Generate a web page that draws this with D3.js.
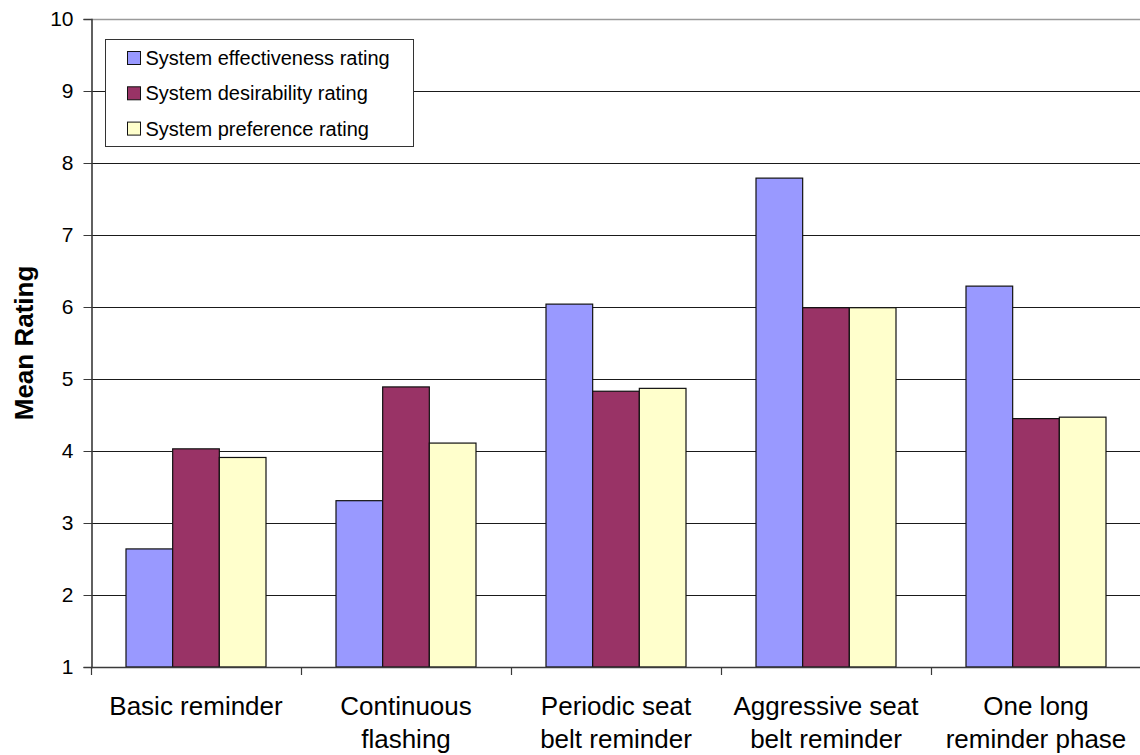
<!DOCTYPE html>
<html>
<head>
<meta charset="utf-8">
<script src="https://cdn.jsdelivr.net/npm/d3@7/dist/d3.min.js"></script>
<style>
  html, body { margin: 0; padding: 0; background: #fff; }
  svg { display: block; font-family: "Liberation Sans", Arial, sans-serif; }
</style>
</head>
<body>
<svg id="chart" width="1140" height="755"></svg>
<script>
// Reminder system concepts (x categories), each label split onto lines
const categories = [
  ["Basic reminder"],
  ["Continuous", "flashing"],
  ["Periodic seat", "belt reminder"],
  ["Aggressive seat", "belt reminder"],
  ["One long", "reminder phase"]
];
const seriesNames = [
  "System effectiveness rating",
  "System desirability rating",
  "System preference rating"
];
const seriesColors = ["#9999FF", "#993366", "#FFFFCC"];

// Mean ratings per series, in category order
const effectiveness = [2.64, 3.31, 6.04, 7.79, 6.29];
const desirability  = [4.03, 4.89, 4.83, 5.99, 4.45];
const preference    = [3.91, 4.11, 4.87, 5.99, 4.47];

const yTicks = [1, 2, 3, 4, 5, 6, 7, 8, 9, 10];
const yTitle = "Mean Rating";

const series = [effectiveness, desirability, preference];
const catKeys = categories.map(c => c.join(" "));

const svg = d3.select("#chart");
const plotLeft = 91, plotRight = 1141, plotTop = 19, plotBottom = 667;

const y = d3.scaleLinear().domain([1, 10]).range([plotBottom, plotTop]);
const x0 = d3.scaleBand().domain(catKeys).range([plotLeft, plotRight]).padding(0);
const bw = x0.bandwidth();
const barW = bw / 4.5;
const x1 = d3.scaleBand().domain(d3.range(series.length))
  .range([barW * 0.75, bw - barW * 0.75]).padding(0);

// Horizontal gridlines
svg.append("g").selectAll("line")
  .data(yTicks.filter(t => t > 1))
  .join("line")
  .attr("x1", plotLeft).attr("x2", plotRight)
  .attr("y1", d => Math.round(y(d)) + 0.5).attr("y2", d => Math.round(y(d)) + 0.5)
  .attr("stroke", d => d === 10 ? "#9a9a9a" : "#1a1a1a")
  .attr("stroke-width", d => d === 10 ? 1.6 : 1);

// Bars
const groups = svg.append("g").selectAll("g")
  .data(catKeys)
  .join("g")
  .attr("transform", d => `translate(${x0(d)},0)`);

groups.selectAll("rect")
  .data((d, i) => series.map((s, k) => ({ k, v: s[i] })))
  .join("rect")
  .attr("x", d => x1(d.k))
  .attr("width", x1.bandwidth())
  .attr("y", d => y(d.v))
  .attr("height", d => y(1) - y(d.v))
  .attr("fill", d => seriesColors[d.k])
  .attr("stroke", "#111")
  .attr("stroke-width", 1.2);

// Y axis
const yAxis = d3.axisLeft(y).tickValues(yTicks).tickSize(8).tickPadding(10)
  .tickFormat(d3.format("d"));
const gy = svg.append("g").attr("transform", `translate(${plotLeft + 0.5},0)`).call(yAxis);
gy.select(".domain").attr("stroke", "#3a3a3a").attr("stroke-width", 1.6);
gy.selectAll(".tick line").attr("stroke", "#3a3a3a");
gy.selectAll(".tick text")
  .attr("font-size", 21).attr("fill", "#000")
  .attr("font-family", "Liberation Sans, Arial, sans-serif");

// X axis: ticks sit on the category boundaries
const boundaries = catKeys.map(k => x0(k)).concat([plotRight]);
const gx = svg.append("g");
gx.append("line")
  .attr("x1", plotLeft).attr("x2", plotRight)
  .attr("y1", plotBottom + 0.5).attr("y2", plotBottom + 0.5)
  .attr("stroke", "#3a3a3a").attr("stroke-width", 1.6);
gx.selectAll("line.tk")
  .data(boundaries)
  .join("line").attr("class", "tk")
  .attr("x1", d => Math.round(d) + 0.5).attr("x2", d => Math.round(d) + 0.5)
  .attr("y1", plotBottom).attr("y2", plotBottom + 8)
  .attr("stroke", "#3a3a3a").attr("stroke-width", 1.2);

gx.selectAll("text")
  .data(categories)
  .join("text")
  .attr("text-anchor", "middle")
  .attr("font-size", 26)
  .attr("fill", "#000")
  .attr("transform", (d, i) => `translate(${x0(catKeys[i]) + bw / 2},715)`)
  .selectAll("tspan")
  .data(d => d)
  .join("tspan")
  .attr("x", 0)
  .attr("dy", (d, i) => i === 0 ? 0 : 33)
  .text(d => d);

// Y axis title
svg.append("text")
  .attr("transform", `translate(33,${(plotTop + plotBottom) / 2}) rotate(-90)`)
  .attr("text-anchor", "middle")
  .attr("font-size", 26)
  .attr("font-weight", "bold")
  .attr("fill", "#000")
  .text(yTitle);

// Legend
const legend = svg.append("g").attr("transform", "translate(105,39)");
legend.append("rect")
  .attr("x", 0.5).attr("y", 0.5).attr("width", 308).attr("height", 107)
  .attr("fill", "#fff").attr("stroke", "#333").attr("stroke-width", 1);
const items = legend.selectAll("g.item")
  .data(seriesNames)
  .join("g").attr("class", "item")
  .attr("transform", (d, i) => `translate(0,${i * 35.3})`);
items.append("rect")
  .attr("x", 22.5).attr("y", 12.5).attr("width", 13).attr("height", 13)
  .attr("fill", (d, i) => seriesColors[i])
  .attr("stroke", "#111").attr("stroke-width", 1);
items.append("text")
  .attr("x", 40.5).attr("y", 26)
  .attr("font-size", 20)
  .attr("fill", "#000")
  .text(d => d);
</script>
</body>
</html>
